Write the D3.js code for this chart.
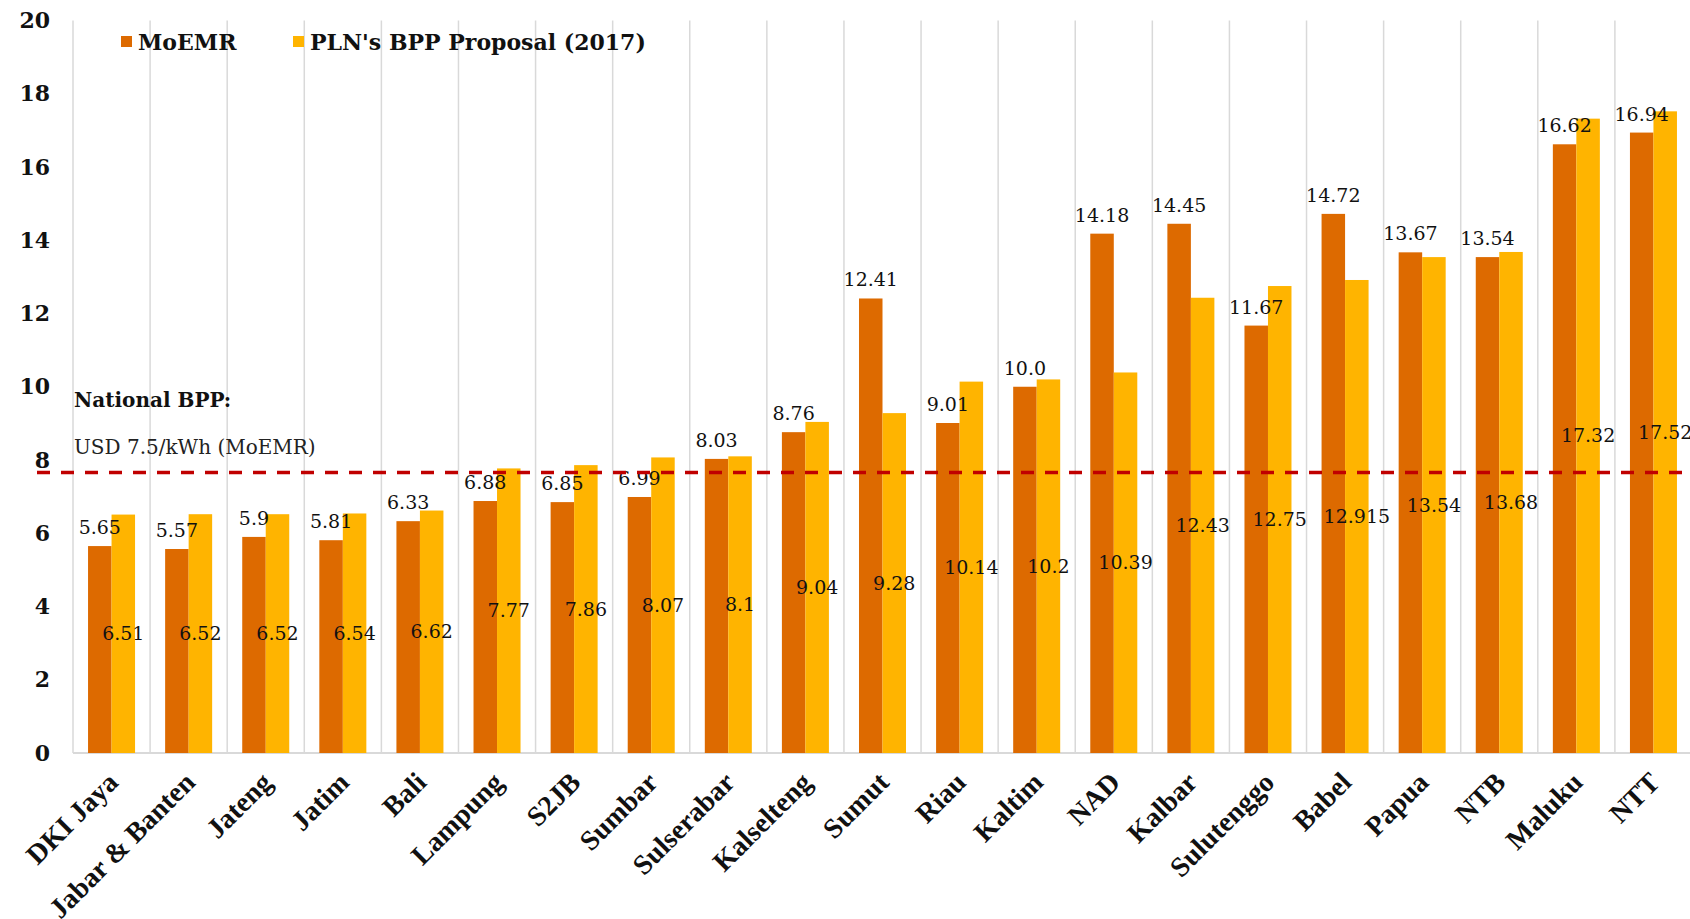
<!DOCTYPE html>
<html>
<head>
<meta charset="utf-8">
<script src="https://cdn.jsdelivr.net/npm/d3@7"></script>
<style>
    body { margin: 0; background: #ffffff; }
    svg { display: block; }
</style>
</head>
<body>
<div id="chart"></div>
<script>
// regions, in the order they appear on the x axis
const categories = ["DKI Jaya", "Jabar & Banten", "Jateng", "Jatim", "Bali", "Lampung", "S2JB",
    "Sumbar", "Sulserabar", "Kalselteng", "Sumut", "Riau", "Kaltim", "NAD", "Kalbar",
    "Sulutenggo", "Babel", "Papua", "NTB", "Maluku", "NTT"];

// BPP per region, USD cents/kWh
const moemrValues = [5.65, 5.57, 5.9, 5.81, 6.33, 6.88, 6.85, 6.99, 8.03, 8.76, 12.41,
    9.01, 10.0, 14.18, 14.45, 11.67, 14.72, 13.67, 13.54, 16.62, 16.94];
const plnValues = [6.51, 6.52, 6.52, 6.54, 6.62, 7.77, 7.86, 8.07, 8.1, 9.04, 9.28,
    10.14, 10.2, 10.39, 12.43, 12.75, 12.915, 13.54, 13.68, 17.32, 17.52];

// label text as printed on the chart
const moemrLabels = ["5.65", "5.57", "5.9", "5.81", "6.33", "6.88", "6.85", "6.99", "8.03", "8.76", "12.41",
    "9.01", "10.0", "14.18", "14.45", "11.67", "14.72", "13.67", "13.54", "16.62", "16.94"];
const plnLabels = ["6.51", "6.52", "6.52", "6.54", "6.62", "7.77", "7.86", "8.07", "8.1", "9.04", "9.28",
    "10.14", "10.2", "10.39", "12.43", "12.75", "12.915", "13.54", "13.68", "17.32", "17.52"];

const seriesNames = ["MoEMR", "PLN's BPP Proposal (2017)"];
const yTicks = [0, 2, 4, 6, 8, 10, 12, 14, 16, 18, 20];
const nationalBppLine = 7.66;

const colors = {moemr: "#DD6A00", pln: "#FFB400"};
const numFont = "'DejaVu Serif', Georgia, serif";
const catFont = "'Liberation Serif', 'Times New Roman', serif";

const width = 1690, height = 919;

let svg = d3.select("#chart").append("svg")
    .attr("width", width)
    .attr("height", height);

// scales
let x = d3.scaleBand()
    .domain(categories)
    .range([73, 1692])
    .padding(0);

let xSub = d3.scaleBand()
    .domain(["moemr", "pln"])
    .range([0, x.bandwidth()])
    .paddingInner(0)
    .paddingOuter(0.64);

let y = d3.scaleLinear()
    .domain([0, 20])
    .range([753, 20.5]);

// vertical gridlines between categories
let gridX = categories.map(c => x(c)).concat([x(categories[categories.length - 1]) + x.bandwidth()]);
svg.append("g")
    .selectAll("line")
    .data(gridX)
    .enter()
    .append("line")
    .attr("x1", d => d)
    .attr("x2", d => d)
    .attr("y1", y(20))
    .attr("y2", y(0))
    .attr("stroke", "#D9D9D9")
    .attr("stroke-width", 1.5);

// base line
svg.append("line")
    .attr("x1", 73)
    .attr("x2", width)
    .attr("y1", y(0))
    .attr("y2", y(0))
    .attr("stroke", "#D9D9D9")
    .attr("stroke-width", 2);

// y axis (labels only)
let yAxis = d3.axisLeft(y)
    .tickValues(yTicks)
    .tickSize(0)
    .tickPadding(0)
    .tickFormat(d3.format("d"));

let yAxisGroup = svg.append("g")
    .attr("transform", "translate(50,0)")
    .call(yAxis);
yAxisGroup.select(".domain").remove();
yAxisGroup.selectAll("text")
    .attr("font-family", numFont)
    .attr("font-weight", "bold")
    .attr("font-size", "22px")
    .attr("fill", "#111");

// bars
let groups = svg.append("g")
    .selectAll("g")
    .data(categories.map((c, i) => ({cat: c, moemr: moemrValues[i], pln: plnValues[i], i: i})))
    .enter()
    .append("g")
    .attr("transform", d => `translate(${x(d.cat)},0)`);

groups.append("rect")
    .attr("x", xSub("moemr"))
    .attr("width", xSub.bandwidth())
    .attr("y", d => y(d.moemr))
    .attr("height", d => y(0) - y(d.moemr))
    .attr("fill", colors.moemr);

groups.append("rect")
    .attr("x", xSub("pln"))
    .attr("width", xSub.bandwidth())
    .attr("y", d => y(d.pln))
    .attr("height", d => y(0) - y(d.pln))
    .attr("fill", colors.pln);

// MoEMR labels above the orange bars
groups.append("text")
    .attr("x", xSub("moemr") + xSub.bandwidth() / 2)
    .attr("y", d => y(d.moemr) - 12)
    .attr("text-anchor", "middle")
    .attr("font-family", numFont)
    .attr("font-size", "19px")
    .attr("fill", "#111")
    .text(d => moemrLabels[d.i]);

// PLN labels in the middle of the yellow bars
groups.append("text")
    .attr("x", xSub("pln") + xSub.bandwidth() / 2)
    .attr("y", d => y(d.pln / 2))
    .attr("dy", "0.35em")
    .attr("text-anchor", "middle")
    .attr("font-family", numFont)
    .attr("font-size", "19px")
    .attr("fill", "#111")
    .text(d => plnLabels[d.i]);

// national BPP dashed line
svg.append("line")
    .attr("x1", 37)
    .attr("x2", width)
    .attr("y1", y(nationalBppLine))
    .attr("y2", y(nationalBppLine))
    .attr("stroke", "#C00000")
    .attr("stroke-width", 3.5)
    .attr("stroke-dasharray", "13,11");

// category labels, rotated
svg.append("g")
    .selectAll("text")
    .data(categories)
    .enter()
    .append("text")
    .attr("transform", d => `translate(${x(d) + x.bandwidth() / 2 + 8},${y(0) + 31}) rotate(-45)`)
    .attr("text-anchor", "end")
    .attr("font-family", catFont)
    .attr("font-weight", "bold")
    .attr("font-size", "28px")
    .attr("fill", "#111")
    .text(d => d);

// annotation
svg.append("text")
    .attr("x", 74)
    .attr("y", 407)
    .attr("font-family", numFont)
    .attr("font-weight", "bold")
    .attr("font-size", "20px")
    .attr("fill", "#111")
    .text("National BPP:");

svg.append("text")
    .attr("x", 74)
    .attr("y", 454)
    .attr("font-family", numFont)
    .attr("font-size", "20px")
    .attr("fill", "#222")
    .text("USD 7.5/kWh (MoEMR)");

// legend
let legend = svg.append("g").attr("class", "legend");
let legendX = [121, 293];
let legendColors = [colors.moemr, colors.pln];

seriesNames.forEach((name, i) => {
    legend.append("rect")
        .attr("x", legendX[i])
        .attr("y", 36)
        .attr("width", 11)
        .attr("height", 11)
        .attr("fill", legendColors[i]);
    legend.append("text")
        .attr("x", legendX[i] + 17)
        .attr("y", 50)
        .attr("font-family", numFont)
        .attr("font-weight", "bold")
        .attr("font-size", "22px")
        .attr("fill", "#111")
        .text(name);
});
</script>
</body>
</html>
